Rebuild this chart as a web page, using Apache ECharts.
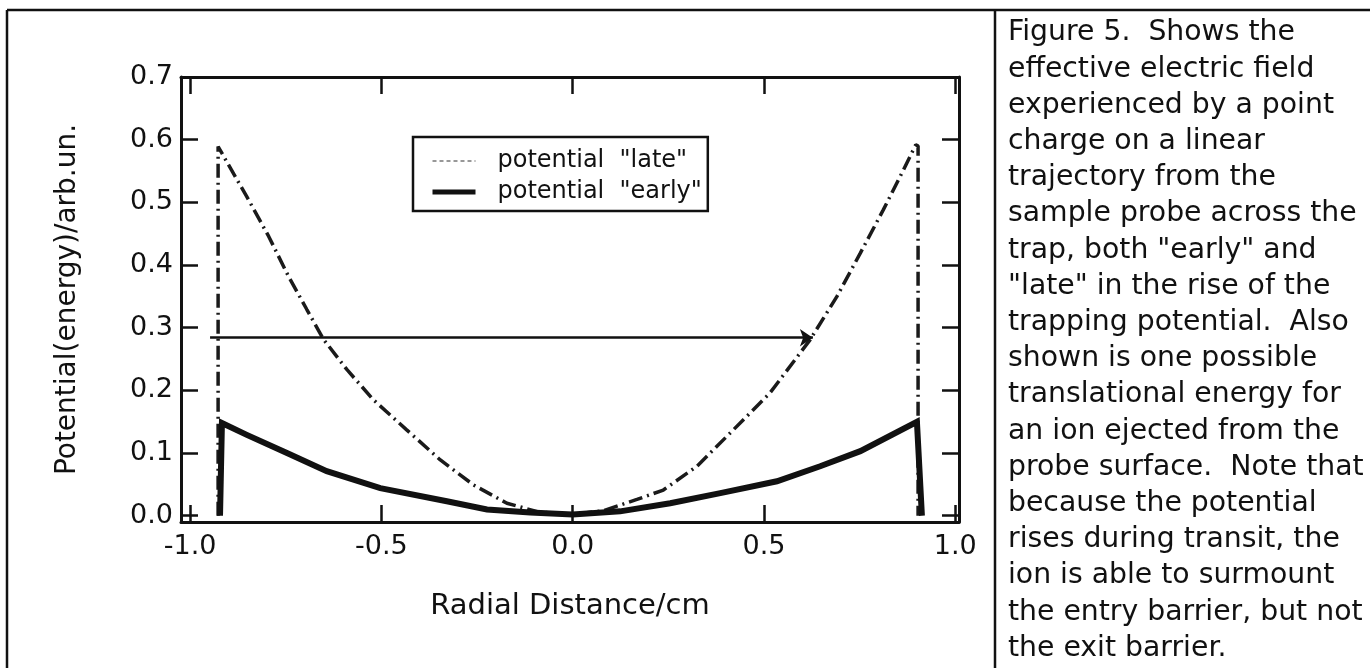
<!DOCTYPE html>
<html>
<head>
<meta charset="utf-8">
<script src="https://cdn.jsdelivr.net/npm/echarts@6/dist/echarts.min.js"></script>
<style>
  html, body { margin: 0; padding: 0; background: #fff; }
  #chart { width: 1370px; height: 668px; }
</style>
</head>
<body>
<div id="chart"></div>
<script>
// tick positions
const xTicks = [-1.0, -0.5, 0.0, 0.5, 1.0];
const yTicks = [0.0, 0.1, 0.2, 0.3, 0.4, 0.5, 0.6, 0.7];

// potential "late" (dashed)
const lateX = [-0.927, -0.927, -0.852, -0.795, -0.743, -0.695, -0.651, -0.590, -0.521, -0.434, -0.346, -0.259, -0.172, -0.090, 0.000, 0.080, 0.168, 0.237, 0.325, 0.420, 0.516, 0.621, 0.691, 0.752, 0.812, 0.865, 0.897, 0.903, 0.903];
const lateY = [0.000, 0.589, 0.509, 0.446, 0.382, 0.329, 0.281, 0.233, 0.185, 0.137, 0.089, 0.049, 0.020, 0.006, 0.002, 0.008, 0.026, 0.041, 0.079, 0.137, 0.196, 0.281, 0.350, 0.419, 0.488, 0.552, 0.592, 0.590, 0.000];

// potential "early" (thick solid)
const earlyX = [-0.922, -0.917, -0.852, -0.747, -0.643, -0.503, -0.329, -0.224, -0.111, 0.000, 0.124, 0.255, 0.386, 0.534, 0.647, 0.752, 0.900, 0.913];
const earlyY = [0.000, 0.148, 0.129, 0.100, 0.071, 0.044, 0.023, 0.010, 0.005, 0.002, 0.007, 0.020, 0.036, 0.055, 0.079, 0.103, 0.150, 0.000];

// translational energy arrow
const arrowX = [-0.948, 0.628];
const arrowY = [0.284, 0.284];

const lateName = 'potential  "late"';
const earlyName = 'potential  "early"';

const caption = [
    'Figure 5.  Shows the',
    'effective electric field',
    'experienced by a point',
    'charge on a linear',
    'trajectory from the',
    'sample probe across the',
    'trap, both "early" and',
    '"late" in the rise of the',
    'trapping potential.  Also',
    'shown is one possible',
    'translational energy for',
    'an ion ejected from the',
    'probe surface.  Note that',
    'because the potential',
    'rises during transit, the',
    'ion is able to surmount',
    'the entry barrier, but not',
    'the exit barrier.'
];

const FONT = 'DejaVu Sans';
const INK = '#111';

const zip = (xs, ys) => xs.map((x, i) => [x, ys[i]]);

const chart = echarts.init(document.getElementById('chart'));

const axisCommon = {
    type: 'value',
    axisLine: {show: true, onZero: false, lineStyle: {color: INK, width: 3}},
    axisTick: {show: true, inside: true, length: 17, lineStyle: {color: INK, width: 2.5}},
    splitLine: {show: false}
};

chart.setOption({
    animation: false,
    backgroundColor: '#fff',
    color: [INK, INK],
    textStyle: {fontFamily: FONT, color: INK},
    grid: {left: 181, right: 411, top: 77, bottom: 146},
    legend: {
        left: 413,
        top: 137,
        orient: 'vertical',
        padding: [10, 6, 5, 17],
        itemGap: 3,
        itemWidth: 43,
        itemHeight: 14,
        borderColor: INK,
        borderWidth: 2.5,
        backgroundColor: '#fff',
        textStyle: {fontFamily: FONT, fontSize: 24, color: INK, lineHeight: 28, padding: [0, 0, 0, 17]},
        data: [
            {name: lateName, itemStyle: {opacity: 0}, lineStyle: {width: 1.5, type: [4, 3], color: '#777'}},
            {name: earlyName, itemStyle: {opacity: 0}, lineStyle: {width: 5, color: INK}}
        ]
    },
    xAxis: [
        Object.assign({}, axisCommon, {
            position: 'bottom',
            min: -1.024, max: 1.01,
            axisTick: Object.assign({}, axisCommon.axisTick, {customValues: xTicks}),
            axisLabel: {
                customValues: xTicks, margin: 11, fontSize: 27, fontFamily: FONT, color: INK,
                formatter: v => v.toFixed(1)
            },
            name: 'Radial Distance/cm',
            nameLocation: 'middle',
            nameGap: 70,
            nameTextStyle: {fontSize: 29, fontFamily: FONT, color: INK}
        }),
        Object.assign({}, axisCommon, {
            position: 'top',
            min: -1.024, max: 1.01,
            axisTick: Object.assign({}, axisCommon.axisTick, {customValues: xTicks}),
            axisLabel: {show: false}
        })
    ],
    yAxis: [
        Object.assign({}, axisCommon, {
            position: 'left',
            min: -0.01, max: 0.7,
            axisTick: Object.assign({}, axisCommon.axisTick, {customValues: yTicks}),
            axisLabel: {
                customValues: yTicks, margin: 8, fontSize: 27, fontFamily: FONT, color: INK,
                formatter: v => v.toFixed(1)
            },
            name: 'Potential(energy)/arb.un.',
            nameLocation: 'middle',
            nameGap: 99,
            nameTextStyle: {fontSize: 28, fontFamily: FONT, color: INK}
        }),
        Object.assign({}, axisCommon, {
            position: 'right',
            min: -0.01, max: 0.7,
            axisTick: Object.assign({}, axisCommon.axisTick, {customValues: yTicks}),
            axisLabel: {show: false}
        })
    ],
    series: [
        {
            name: lateName,
            type: 'line',
            data: zip(lateX, lateY),
            symbol: 'none',
            itemStyle: {color: INK},
            lineStyle: {color: '#1a1a1a', width: 3.5, type: [14, 5, 2, 5]},
            z: 3
        },
        {
            name: earlyName,
            type: 'line',
            data: zip(earlyX, earlyY),
            symbol: 'none',
            itemStyle: {color: INK},
            lineStyle: {color: INK, width: 6, join: 'miter'},
            z: 4
        },
        {
            name: 'arrow',
            type: 'line',
            data: [],
            silent: true,
            markLine: {
                silent: true,
                symbol: ['none', 'arrow'],
                symbolSize: 13,
                label: {show: false},
                lineStyle: {color: INK, width: 2.5, type: 'solid'},
                emphasis: {disabled: true},
                data: [[
                    {coord: [arrowX[0], arrowY[0]]},
                    {coord: [arrowX[1], arrowY[1]]}
                ]]
            }
        }
    ],
    graphic: [
        {type: 'line', shape: {x1: 7, y1: 10, x2: 1370, y2: 10}, style: {stroke: INK, lineWidth: 2.5}},
        {type: 'line', shape: {x1: 7, y1: 10, x2: 7, y2: 668}, style: {stroke: INK, lineWidth: 2.5}},
        {type: 'line', shape: {x1: 995, y1: 10, x2: 995, y2: 668}, style: {stroke: INK, lineWidth: 2.5}},
        {
            type: 'text',
            left: 1008,
            top: 15,
            style: {
                text: caption.join('\n'),
                font: '28.3px "DejaVu Sans"',
                fill: INK,
                lineHeight: 36.2
            }
        }
    ]
});
</script>
</body>
</html>
